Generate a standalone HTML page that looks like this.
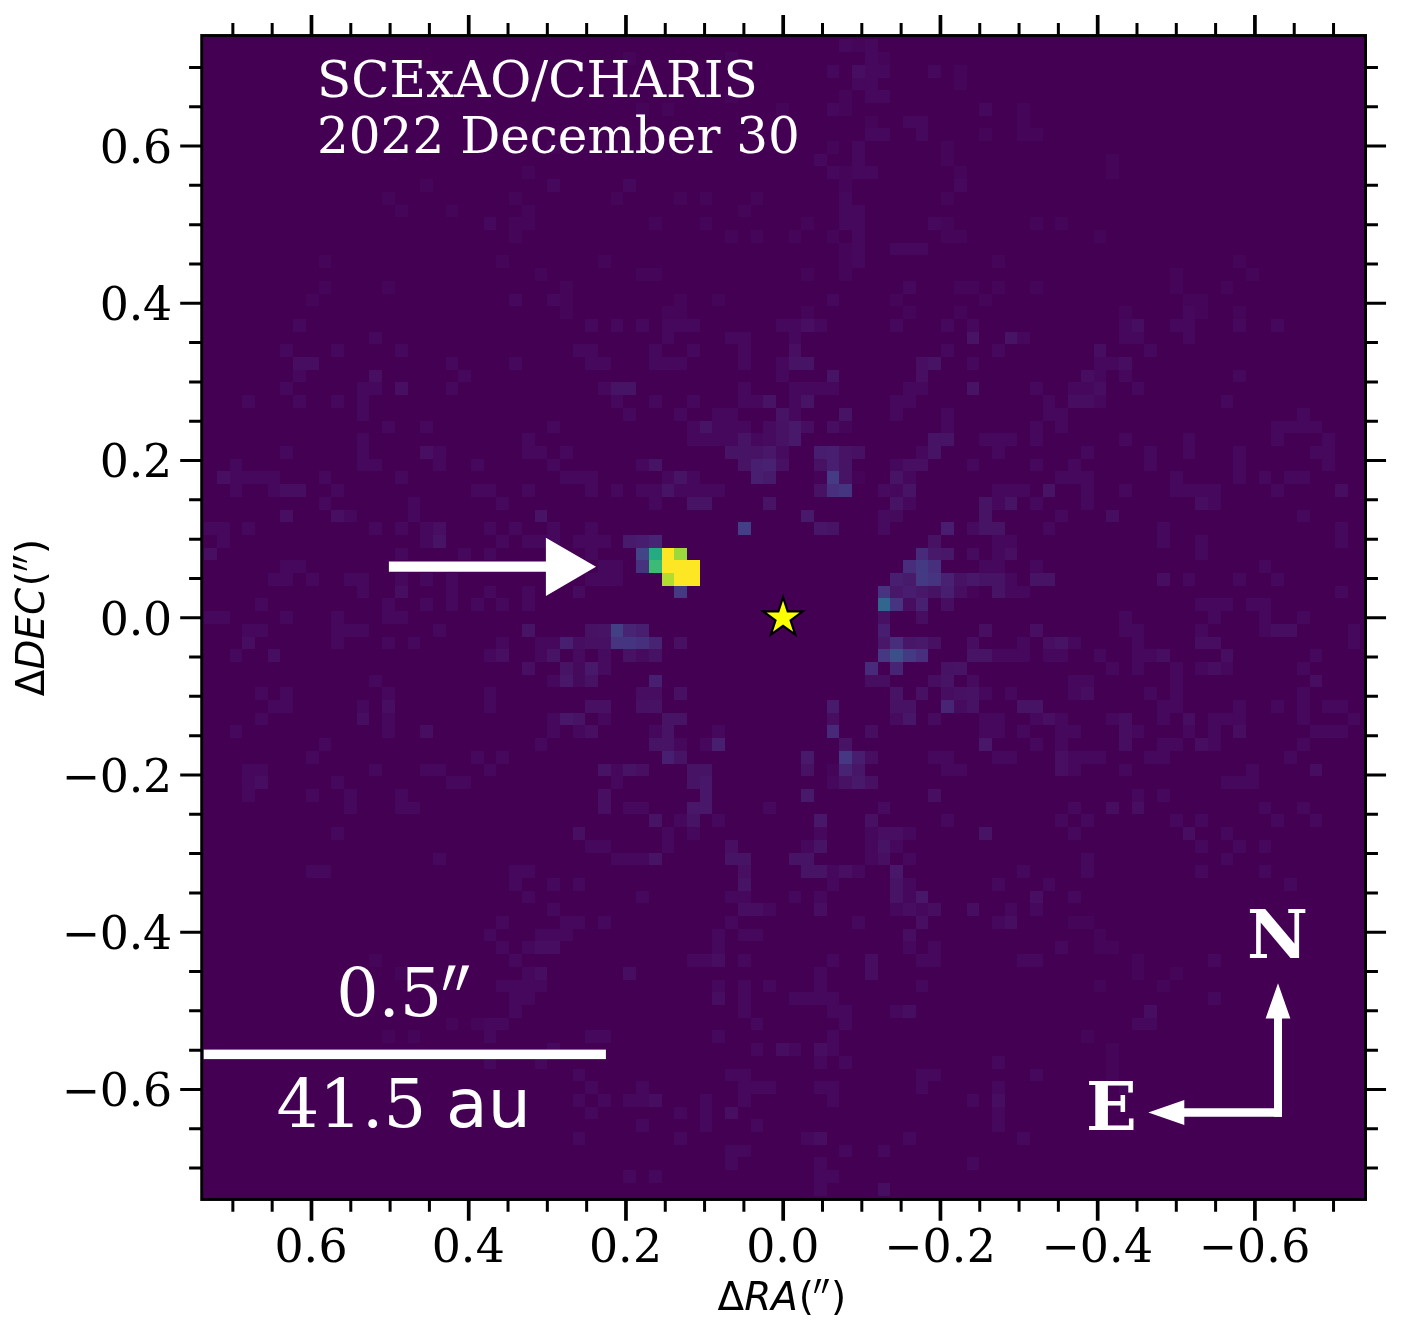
<!DOCTYPE html>
<html lang="en"><head><meta charset="utf-8"><title>SCExAO/CHARIS 2022 December 30</title>
<style>
html,body{margin:0;padding:0;background:#fff;overflow:hidden}
svg{display:block}
.ser{font-family:"DejaVu Serif","Liberation Serif",serif}
.san{font-family:"DejaVu Sans","Liberation Sans",sans-serif}
</style></head><body>
<svg width="1401" height="1334" viewBox="0 0 1401 1334">
<rect x="0" y="0" width="1401" height="1334" fill="#fff"/>
<defs><clipPath id="clipax"><rect x="201.7" y="35.5" width="1163.85" height="1164.00"/></clipPath></defs>
<rect x="201.7" y="35.5" width="1163.85" height="1164.00" fill="#440154"/>

<g shape-rendering="crispEdges" clip-path="url(#clipax)">
<path d="M204 522h13v13h-13zM204 611h13v13h-13zM217 522h13v13h-13zM217 535h13v13h-13zM217 611h13v13h-13zM230 459h12v12h-12zM230 471h12v13h-12zM230 484h12v13h-12zM230 649h12v13h-12zM230 725h12v13h-12zM242 395h13v13h-13zM242 471h13v13h-13zM242 522h13v13h-13zM242 624h13v13h-13zM242 764h13v12h-13zM242 776h13v13h-13zM242 789h13v13h-13zM255 471h13v13h-13zM255 598h13v13h-13zM255 624h13v13h-13zM255 687h13v13h-13zM255 713h13v12h-13zM255 764h13v12h-13zM268 471h12v13h-12zM268 484h12v13h-12zM268 573h12v13h-12zM268 700h12v13h-12zM280 344h13v13h-13zM280 382h13v13h-13zM280 446h13v13h-13zM280 560h13v13h-13zM280 573h13v13h-13zM280 611h13v13h-13zM280 687h13v13h-13zM280 700h13v13h-13zM293 319h13v13h-13zM293 370h13v12h-13zM293 395h13v13h-13zM293 560h13v13h-13zM306 573h13v13h-13zM306 751h13v13h-13zM306 789h13v13h-13zM306 865h13v13h-13zM319 471h12v13h-12zM319 497h12v13h-12zM319 738h12v13h-12zM319 865h12v13h-12zM331 344h13v13h-13zM331 395h13v13h-13zM331 484h13v13h-13zM331 611h13v13h-13zM331 624h13v13h-13zM331 637h13v12h-13zM331 776h13v13h-13zM331 827h13v13h-13zM344 510h13v12h-13zM344 573h13v13h-13zM344 624h13v13h-13zM344 789h13v13h-13zM344 802h13v12h-13zM357 382h12v13h-12zM357 395h12v13h-12zM357 408h12v13h-12zM357 433h12v13h-12zM357 446h12v13h-12zM357 459h12v12h-12zM357 573h12v13h-12zM357 586h12v12h-12zM357 624h12v13h-12zM357 700h12v13h-12zM369 332h13v12h-13zM369 382h13v13h-13zM369 459h13v12h-13zM369 522h13v13h-13zM369 675h13v12h-13zM369 764h13v12h-13zM382 421h13v12h-13zM382 598h13v13h-13zM382 611h13v13h-13zM382 637h13v12h-13zM382 687h13v13h-13zM382 713h13v12h-13zM382 725h13v13h-13zM395 344h13v13h-13zM395 471h13v13h-13zM395 522h13v13h-13zM395 548h13v12h-13zM395 573h13v13h-13zM395 611h13v13h-13zM395 789h13v13h-13zM395 802h13v12h-13zM408 497h12v13h-12zM408 510h12v12h-12zM408 637h12v12h-12zM408 802h12v12h-12zM420 421h13v12h-13zM420 522h13v13h-13zM420 535h13v13h-13zM420 573h13v13h-13zM420 598h13v13h-13zM420 764h13v12h-13zM433 446h13v13h-13zM433 459h13v12h-13zM433 624h13v13h-13zM433 764h13v12h-13zM433 853h13v12h-13zM446 357h12v13h-12zM446 382h12v13h-12zM446 573h12v13h-12zM446 586h12v12h-12zM446 598h12v13h-12zM446 776h12v13h-12zM458 370h13v12h-13zM458 548h13v12h-13zM458 776h13v13h-13zM471 459h13v12h-13zM471 484h13v13h-13zM471 598h13v13h-13zM471 751h13v13h-13zM484 217h12v13h-12zM484 484h12v13h-12zM484 522h12v13h-12zM484 548h12v12h-12zM484 586h12v12h-12zM484 649h12v13h-12zM484 687h12v13h-12zM484 700h12v13h-12zM484 764h12v12h-12zM484 929h12v12h-12zM484 1018h12v12h-12zM484 1030h12v13h-12zM484 1056h12v13h-12zM496 497h13v13h-13zM496 535h13v13h-13zM496 598h13v13h-13zM496 637h13v12h-13zM496 751h13v13h-13zM496 916h13v13h-13zM496 941h13v13h-13zM496 980h13v12h-13zM496 1018h13v12h-13zM509 294h13v12h-13zM509 357h13v13h-13zM509 522h13v13h-13zM509 865h13v13h-13zM509 878h13v13h-13zM509 954h13v13h-13zM509 980h13v12h-13zM509 992h13v13h-13zM509 1005h13v13h-13zM522 433h13v13h-13zM522 446h13v13h-13zM522 484h13v13h-13zM522 535h13v13h-13zM522 586h13v12h-13zM522 598h13v13h-13zM522 865h13v13h-13zM522 891h13v12h-13zM522 941h13v13h-13zM522 967h13v13h-13zM522 980h13v12h-13zM522 992h13v13h-13zM535 446h12v13h-12zM535 535h12v13h-12zM535 637h12v12h-12zM535 649h12v13h-12zM535 738h12v13h-12zM535 929h12v12h-12zM535 980h12v12h-12zM535 1056h12v13h-12zM547 179h13v13h-13zM547 294h13v12h-13zM547 421h13v12h-13zM547 459h13v12h-13zM547 522h13v13h-13zM547 535h13v13h-13zM547 637h13v12h-13zM547 675h13v12h-13zM547 713h13v12h-13zM547 725h13v13h-13zM547 878h13v13h-13zM547 903h13v13h-13zM547 929h13v12h-13zM547 1043h13v13h-13zM560 446h13v13h-13zM560 471h13v13h-13zM560 916h13v13h-13zM560 929h13v12h-13zM573 344h12v13h-12zM573 471h12v13h-12zM573 535h12v13h-12zM573 725h12v13h-12zM573 878h12v13h-12zM573 916h12v13h-12zM573 1069h12v12h-12zM573 1094h12v13h-12zM573 1132h12v13h-12zM585 319h13v13h-13zM585 344h13v13h-13zM585 357h13v13h-13zM585 471h13v13h-13zM585 484h13v13h-13zM585 522h13v13h-13zM585 535h13v13h-13zM585 548h13v12h-13zM585 573h13v13h-13zM585 840h13v13h-13zM585 1030h13v13h-13zM585 1081h13v13h-13zM585 1107h13v12h-13zM598 357h13v13h-13zM598 382h13v13h-13zM598 535h13v13h-13zM598 560h13v13h-13zM598 573h13v13h-13zM598 713h13v12h-13zM598 840h13v13h-13zM598 916h13v13h-13zM598 1030h13v13h-13zM598 1094h13v13h-13zM611 319h12v13h-12zM611 395h12v13h-12zM611 484h12v13h-12zM611 560h12v13h-12zM611 573h12v13h-12zM611 764h12v12h-12zM611 776h12v13h-12zM611 853h12v12h-12zM623 179h13v13h-13zM623 408h13v13h-13zM623 802h13v12h-13zM623 853h13v12h-13zM623 1094h13v13h-13zM623 1170h13v13h-13zM636 319h13v13h-13zM636 459h13v12h-13zM636 484h13v13h-13zM636 802h13v12h-13zM636 853h13v12h-13zM636 891h13v12h-13zM636 1081h13v13h-13zM636 1094h13v13h-13zM636 1119h13v13h-13zM649 344h13v13h-13zM649 357h13v13h-13zM649 395h13v13h-13zM649 484h13v13h-13zM649 497h13v13h-13zM649 725h13v13h-13zM649 1170h13v13h-13zM662 319h12v13h-12zM662 332h12v12h-12zM662 357h12v13h-12zM662 471h12v13h-12zM662 827h12v13h-12zM662 840h12v13h-12zM674 319h13v13h-13zM674 357h13v13h-13zM674 408h13v13h-13zM674 484h13v13h-13zM674 738h13v13h-13zM674 814h13v13h-13zM674 1107h13v12h-13zM674 1132h13v13h-13zM687 319h13v13h-13zM687 344h13v13h-13zM687 395h13v13h-13zM687 421h13v12h-13zM687 433h13v13h-13zM687 471h13v13h-13zM687 484h13v13h-13zM687 827h13v13h-13zM687 954h13v13h-13zM700 433h12v13h-12zM700 484h12v13h-12zM700 738h12v13h-12zM700 954h12v13h-12zM700 1094h12v13h-12zM700 1107h12v12h-12zM700 1119h12v13h-12zM712 408h13v13h-13zM712 421h13v12h-13zM712 433h13v13h-13zM712 484h13v13h-13zM712 725h13v13h-13zM712 814h13v13h-13zM712 929h13v12h-13zM712 941h13v13h-13zM712 980h13v12h-13zM712 1030h13v13h-13zM725 332h13v12h-13zM725 408h13v13h-13zM725 421h13v12h-13zM725 433h13v13h-13zM725 891h13v12h-13zM725 916h13v13h-13zM725 1069h13v12h-13zM725 1145h13v12h-13zM725 1157h13v13h-13zM738 332h13v12h-13zM738 344h13v13h-13zM738 357h13v13h-13zM738 382h13v13h-13zM738 395h13v13h-13zM738 421h13v12h-13zM738 891h13v12h-13zM738 929h13v12h-13zM738 954h13v13h-13zM738 980h13v12h-13zM738 992h13v13h-13zM738 1005h13v13h-13zM738 1069h13v12h-13zM738 1081h13v13h-13zM738 1094h13v13h-13zM738 1145h13v12h-13zM751 395h12v13h-12zM751 433h12v13h-12zM751 929h12v12h-12zM751 1018h12v12h-12zM751 1043h12v13h-12zM751 1081h12v13h-12zM751 1119h12v13h-12zM763 802h13v12h-13zM763 903h13v13h-13zM763 980h13v12h-13zM763 1081h13v13h-13zM776 319h13v13h-13zM776 357h13v13h-13zM776 370h13v12h-13zM789 319h12v13h-12zM789 332h12v12h-12zM789 382h12v13h-12zM789 395h12v13h-12zM789 408h12v13h-12zM789 891h12v12h-12zM789 992h12v13h-12zM789 1043h12v13h-12zM801 382h13v13h-13zM801 840h13v13h-13zM801 992h13v13h-13zM801 1132h13v13h-13zM814 154h13v12h-13zM814 319h13v13h-13zM814 382h13v13h-13zM814 827h13v13h-13zM814 891h13v12h-13zM814 967h13v13h-13zM814 980h13v12h-13zM814 992h13v13h-13zM814 1056h13v13h-13zM814 1081h13v13h-13zM814 1157h13v13h-13zM814 1170h13v13h-13zM814 1183h13v13h-13zM827 65h12v13h-12zM827 103h12v13h-12zM827 166h12v13h-12zM827 294h12v12h-12zM827 382h12v13h-12zM827 776h12v13h-12zM827 865h12v13h-12zM827 878h12v13h-12zM827 954h12v13h-12zM827 992h12v13h-12zM827 1005h12v13h-12zM827 1030h12v13h-12zM827 1043h12v13h-12zM827 1081h12v13h-12zM827 1094h12v13h-12zM827 1170h12v13h-12zM839 39h13v13h-13zM839 192h13v13h-13zM839 205h13v12h-13zM839 217h13v13h-13zM839 1005h13v13h-13zM839 1018h13v12h-13zM839 1056h13v13h-13zM839 1145h13v12h-13zM852 78h13v12h-13zM852 141h13v13h-13zM852 154h13v12h-13zM852 166h13v13h-13zM852 205h13v12h-13zM852 217h13v13h-13zM852 230h13v13h-13zM852 243h13v12h-13zM852 255h13v13h-13zM852 865h13v13h-13zM852 916h13v13h-13zM865 39h13v13h-13zM865 52h13v13h-13zM865 65h13v13h-13zM865 78h13v12h-13zM865 90h13v13h-13zM865 128h13v13h-13zM865 166h13v13h-13zM865 827h13v13h-13zM865 840h13v13h-13zM865 853h13v12h-13zM878 65h12v13h-12zM878 90h12v13h-12zM878 128h12v13h-12zM878 1145h12v12h-12zM890 243h13v12h-13zM890 319h13v13h-13zM890 395h13v13h-13zM890 408h13v13h-13zM890 459h13v12h-13zM890 484h13v13h-13zM890 840h13v13h-13zM890 903h13v13h-13zM890 1005h13v13h-13zM903 116h13v12h-13zM903 243h13v12h-13zM903 281h13v13h-13zM903 382h13v13h-13zM903 395h13v13h-13zM903 471h13v13h-13zM903 497h13v13h-13zM903 827h13v13h-13zM903 853h13v12h-13zM903 878h13v13h-13zM903 891h13v12h-13zM903 941h13v13h-13zM903 1132h13v13h-13zM916 116h12v12h-12zM916 128h12v13h-12zM916 243h12v12h-12zM916 382h12v13h-12zM916 446h12v13h-12zM916 903h12v13h-12zM916 954h12v13h-12zM916 980h12v12h-12zM916 1069h12v12h-12zM916 1081h12v13h-12zM928 65h13v13h-13zM928 217h13v13h-13zM928 751h13v13h-13zM928 941h13v13h-13zM928 954h13v13h-13zM928 1069h13v12h-13zM941 319h13v13h-13zM941 344h13v13h-13zM941 408h13v13h-13zM941 421h13v12h-13zM941 751h13v13h-13zM941 764h13v12h-13zM941 814h13v13h-13zM954 179h13v13h-13zM954 764h13v12h-13zM967 319h12v13h-12zM967 357h12v13h-12zM967 459h12v12h-12zM967 1094h12v13h-12zM967 1157h12v13h-12zM979 103h13v13h-13zM979 433h13v13h-13zM979 560h13v13h-13zM979 687h13v13h-13zM979 713h13v12h-13zM979 725h13v13h-13zM992 344h13v13h-13zM992 433h13v13h-13zM992 446h13v13h-13zM992 484h13v13h-13zM992 497h13v13h-13zM992 535h13v13h-13zM992 548h13v12h-13zM992 560h13v13h-13zM992 649h13v13h-13zM992 713h13v12h-13zM992 725h13v13h-13zM992 751h13v13h-13zM992 878h13v13h-13zM992 916h13v13h-13zM992 1056h13v13h-13zM992 1081h13v13h-13zM992 1107h13v12h-13zM992 1119h13v13h-13zM1005 433h12v13h-12zM1005 484h12v13h-12zM1005 535h12v13h-12zM1005 573h12v13h-12zM1005 586h12v12h-12zM1005 649h12v13h-12zM1005 687h12v13h-12zM1005 751h12v13h-12zM1005 903h12v13h-12zM1017 332h13v12h-13zM1017 484h13v13h-13zM1017 586h13v12h-13zM1017 637h13v12h-13zM1017 649h13v13h-13zM1017 725h13v13h-13zM1017 865h13v13h-13zM1017 954h13v13h-13zM1017 1132h13v13h-13zM1030 382h13v13h-13zM1030 421h13v12h-13zM1030 433h13v13h-13zM1030 459h13v12h-13zM1030 497h13v13h-13zM1030 560h13v13h-13zM1030 713h13v12h-13zM1030 738h13v13h-13zM1030 903h13v13h-13zM1030 954h13v13h-13zM1030 1069h13v12h-13zM1043 395h12v13h-12zM1043 408h12v13h-12zM1043 522h12v13h-12zM1043 649h12v13h-12zM1043 878h12v13h-12zM1055 408h13v13h-13zM1055 421h13v12h-13zM1055 471h13v13h-13zM1055 510h13v12h-13zM1055 649h13v13h-13zM1055 713h13v12h-13zM1055 725h13v13h-13zM1055 738h13v13h-13zM1055 814h13v13h-13zM1055 941h13v13h-13zM1068 382h13v13h-13zM1068 459h13v12h-13zM1068 471h13v13h-13zM1068 637h13v12h-13zM1068 675h13v12h-13zM1068 687h13v13h-13zM1068 725h13v13h-13zM1068 751h13v13h-13zM1068 764h13v12h-13zM1068 802h13v12h-13zM1068 827h13v13h-13zM1068 891h13v12h-13zM1081 382h13v13h-13zM1081 446h13v13h-13zM1081 471h13v13h-13zM1081 484h13v13h-13zM1081 497h13v13h-13zM1081 675h13v12h-13zM1081 751h13v13h-13zM1081 814h13v13h-13zM1081 853h13v12h-13zM1081 865h13v13h-13zM1094 357h12v13h-12zM1094 370h12v12h-12zM1094 395h12v13h-12zM1094 649h12v13h-12zM1094 751h12v13h-12zM1106 357h13v13h-13zM1106 662h13v13h-13zM1106 713h13v12h-13zM1119 319h13v13h-13zM1119 332h13v12h-13zM1119 370h13v12h-13zM1119 433h13v13h-13zM1119 484h13v13h-13zM1119 611h13v13h-13zM1119 624h13v13h-13zM1119 764h13v12h-13zM1119 1081h13v13h-13zM1132 332h12v12h-12zM1132 382h12v13h-12zM1132 624h12v13h-12zM1132 637h12v12h-12zM1132 649h12v13h-12zM1132 662h12v13h-12zM1132 725h12v13h-12zM1132 789h12v13h-12zM1132 1018h12v12h-12zM1144 344h13v13h-13zM1144 446h13v13h-13zM1144 459h13v12h-13zM1144 649h13v13h-13zM1144 687h13v13h-13zM1144 751h13v13h-13zM1144 1018h13v12h-13zM1157 522h13v13h-13zM1157 535h13v13h-13zM1157 700h13v13h-13zM1157 713h13v12h-13zM1157 738h13v13h-13zM1157 751h13v13h-13zM1157 789h13v13h-13zM1170 319h13v13h-13zM1170 471h13v13h-13zM1170 484h13v13h-13zM1170 662h13v13h-13zM1170 675h13v12h-13zM1170 687h13v13h-13zM1170 700h13v13h-13zM1170 738h13v13h-13zM1170 814h13v13h-13zM1183 306h12v13h-12zM1183 319h12v13h-12zM1183 332h12v12h-12zM1183 433h12v13h-12zM1183 446h12v13h-12zM1183 484h12v13h-12zM1183 573h12v13h-12zM1183 725h12v13h-12zM1195 484h13v13h-13zM1195 535h13v13h-13zM1195 548h13v12h-13zM1195 598h13v13h-13zM1195 624h13v13h-13zM1195 662h13v13h-13zM1195 814h13v13h-13zM1195 840h13v13h-13zM1195 865h13v13h-13zM1208 484h13v13h-13zM1208 497h13v13h-13zM1208 598h13v13h-13zM1208 611h13v13h-13zM1208 713h13v12h-13zM1208 725h13v13h-13zM1208 738h13v13h-13zM1208 954h13v13h-13zM1208 992h13v13h-13zM1221 395h12v13h-12zM1221 598h12v13h-12zM1221 662h12v13h-12zM1221 713h12v12h-12zM1221 776h12v13h-12zM1221 827h12v13h-12zM1221 853h12v12h-12zM1233 319h13v13h-13zM1233 370h13v12h-13zM1233 446h13v13h-13zM1233 459h13v12h-13zM1233 471h13v13h-13zM1233 573h13v13h-13zM1233 700h13v13h-13zM1233 713h13v12h-13zM1233 776h13v13h-13zM1233 840h13v13h-13zM1246 598h13v13h-13zM1246 764h13v12h-13zM1246 776h13v13h-13zM1259 471h12v13h-12zM1259 560h12v13h-12zM1259 598h12v13h-12zM1259 611h12v13h-12zM1259 624h12v13h-12zM1259 802h12v12h-12zM1259 840h12v13h-12zM1259 865h12v13h-12zM1271 319h13v13h-13zM1271 421h13v12h-13zM1271 433h13v13h-13zM1271 484h13v13h-13zM1271 573h13v13h-13zM1271 700h13v13h-13zM1271 814h13v13h-13zM1284 421h13v12h-13zM1284 471h13v13h-13zM1284 751h13v13h-13zM1284 878h13v13h-13zM1297 408h13v13h-13zM1297 421h13v12h-13zM1297 471h13v13h-13zM1297 510h13v12h-13zM1297 611h13v13h-13zM1297 662h13v13h-13zM1297 687h13v13h-13zM1297 700h13v13h-13zM1297 713h13v12h-13zM1297 738h13v13h-13zM1297 802h13v12h-13zM1310 421h12v12h-12zM1310 446h12v13h-12zM1310 649h12v13h-12zM1310 725h12v13h-12zM1310 814h12v13h-12zM1322 433h13v13h-13zM1322 446h13v13h-13zM1322 459h13v12h-13zM1322 700h13v13h-13zM1322 725h13v13h-13zM1335 522h13v13h-13zM1335 535h13v13h-13zM1335 586h13v12h-13zM1335 700h13v13h-13zM1335 725h13v13h-13zM1348 624h12v13h-12zM1348 637h12v12h-12zM1348 713h12v12h-12z" fill="#46085c"/>
<path d="M204 548h13v12h-13zM217 471h13v13h-13zM280 510h13v12h-13zM331 510h13v12h-13zM369 370h13v12h-13zM395 382h13v13h-13zM420 446h13v13h-13zM433 522h13v13h-13zM496 649h13v13h-13zM522 662h13v13h-13zM573 827h12v13h-12zM585 725h13v13h-13zM598 789h13v13h-13zM598 802h13v12h-13zM636 764h13v12h-13zM725 840h13v13h-13zM725 1107h13v12h-13zM738 865h13v13h-13zM789 344h12v13h-12zM801 319h13v13h-13zM839 865h13v13h-13zM878 827h12v13h-12zM878 853h12v12h-12zM890 827h13v13h-13zM903 459h13v12h-13zM916 357h12v13h-12zM916 370h12v12h-12zM916 459h12v12h-12zM916 916h12v13h-12zM928 789h13v13h-13zM979 624h13v13h-13zM1005 548h12v12h-12zM1030 624h13v13h-13zM1030 891h13v12h-13zM1043 637h12v12h-12zM1043 713h12v12h-12zM1055 751h13v13h-13zM1055 764h13v12h-13z" fill="#470e61"/>
<path d="M242 637h13v12h-13zM255 776h13v13h-13zM268 649h12v13h-12zM280 484h13v13h-13zM293 357h13v13h-13zM293 484h13v13h-13zM306 357h13v13h-13zM357 713h12v12h-12zM382 700h13v13h-13zM395 586h13v12h-13zM420 725h13v13h-13zM535 941h12v13h-12zM535 967h12v13h-12zM547 941h13v13h-13zM573 637h12v12h-12zM623 967h13v13h-13zM636 687h13v13h-13zM649 687h13v13h-13zM649 1094h13v13h-13zM712 954h13v13h-13zM712 992h13v13h-13zM738 903h13v13h-13zM751 903h12v13h-12zM776 1043h13v13h-13zM801 421h13v12h-13zM814 903h13v13h-13zM814 1043h13v13h-13zM814 1132h13v13h-13zM827 421h12v12h-12zM827 713h12v12h-12zM852 65h13v13h-13zM865 675h13v12h-13zM865 725h13v13h-13zM865 751h13v13h-13zM865 954h13v13h-13zM865 967h13v13h-13zM878 675h12v12h-12zM878 1183h12v13h-12zM903 598h13v13h-13zM903 903h13v13h-13zM903 929h13v12h-13zM903 1005h13v13h-13zM916 611h12v13h-12zM928 675h13v12h-13zM928 903h13v13h-13zM941 598h13v13h-13zM941 687h13v13h-13zM954 586h13v12h-13zM967 637h12v12h-12zM967 903h12v13h-12zM992 1094h13v13h-13zM1005 916h12v13h-12zM1068 395h13v13h-13zM1081 370h13v12h-13zM1081 395h13v13h-13zM1081 687h13v13h-13zM1094 344h12v13h-12zM1094 382h12v13h-12zM1106 510h13v12h-13zM1106 802h13v12h-13zM1119 357h13v13h-13zM1119 713h13v12h-13zM1119 725h13v13h-13zM1119 738h13v13h-13zM1132 319h12v13h-12zM1132 802h12v12h-12zM1144 1005h13v13h-13zM1157 573h13v13h-13zM1157 649h13v13h-13zM1183 713h12v12h-12zM1183 827h12v13h-12zM1195 497h13v13h-13zM1195 637h13v12h-13zM1195 738h13v13h-13zM1208 637h13v12h-13zM1208 662h13v13h-13zM1221 649h12v13h-12zM1233 725h13v13h-13zM1271 624h13v13h-13zM1284 624h13v13h-13zM1310 675h12v12h-12zM1310 764h12v12h-12zM1335 484h13v13h-13z" fill="#470d60"/>
<path d="M306 294h13v12h-13zM319 255h12v13h-12zM319 281h12v13h-12zM369 954h13v13h-13zM382 192h13v13h-13zM382 281h13v13h-13zM382 1030h13v13h-13zM395 205h13v12h-13zM395 967h13v13h-13zM408 1030h12v13h-12zM420 179h13v13h-13zM446 205h12v12h-12zM446 1018h12v12h-12zM471 1018h13v12h-13zM496 255h13v13h-13zM509 192h13v13h-13zM509 217h13v13h-13zM509 230h13v13h-13zM522 166h13v13h-13zM522 205h13v12h-13zM522 217h13v13h-13zM535 268h12v13h-12zM547 141h13v13h-13zM560 281h13v13h-13zM560 294h13v12h-13zM560 306h13v13h-13zM598 255h13v13h-13zM611 192h12v13h-12zM623 52h13v13h-13zM636 103h13v13h-13zM636 268h13v13h-13zM649 217h13v13h-13zM649 268h13v13h-13zM662 103h12v13h-12zM662 306h12v13h-12zM674 192h13v13h-13zM674 294h13v12h-13zM674 306h13v13h-13zM700 192h12v13h-12zM700 217h12v13h-12zM712 294h13v12h-13zM725 52h13v13h-13zM725 90h13v13h-13zM725 230h13v13h-13zM738 205h13v12h-13zM751 192h12v13h-12zM751 230h12v13h-12zM776 103h13v13h-13zM789 230h12v13h-12zM801 217h13v13h-13zM801 268h13v13h-13zM801 306h13v13h-13zM827 141h12v13h-12zM827 230h12v13h-12zM827 764h12v12h-12zM839 90h13v13h-13zM839 103h13v13h-13zM839 166h13v13h-13zM839 179h13v13h-13zM839 243h13v12h-13zM839 255h13v13h-13zM839 268h13v13h-13zM839 421h13v12h-13zM852 39h13v13h-13zM865 116h13v12h-13zM878 52h12v13h-12zM890 294h13v12h-13zM903 306h13v13h-13zM941 141h13v13h-13zM941 154h13v12h-13zM941 192h13v13h-13zM941 217h13v13h-13zM941 230h13v13h-13zM954 65h13v13h-13zM954 78h13v12h-13zM954 166h13v13h-13zM954 230h13v13h-13zM954 281h13v13h-13zM954 306h13v13h-13zM967 281h12v13h-12zM979 128h13v13h-13zM979 294h13v12h-13zM992 255h13v13h-13zM992 281h13v13h-13zM1017 103h13v13h-13zM1017 116h13v12h-13zM1017 128h13v13h-13zM1030 128h13v13h-13zM1030 217h13v13h-13zM1030 281h13v13h-13zM1055 217h13v13h-13zM1068 916h13v13h-13zM1081 916h13v13h-13zM1081 1030h13v13h-13zM1094 230h12v13h-12zM1094 929h12v12h-12zM1094 941h12v13h-12zM1094 980h12v12h-12zM1106 154h13v12h-13zM1106 166h13v13h-13zM1106 941h13v13h-13zM1106 1043h13v13h-13zM1106 1056h13v13h-13zM1106 1069h13v12h-13zM1119 306h13v13h-13zM1132 954h12v13h-12zM1132 967h12v13h-12zM1157 980h13v12h-13zM1170 268h13v13h-13zM1170 281h13v13h-13zM1170 967h13v13h-13zM1183 294h12v12h-12zM1195 294h13v12h-13zM1195 306h13v13h-13zM1221 281h12v13h-12zM1233 255h13v13h-13zM1233 306h13v13h-13zM1246 268h13v13h-13z" fill="#450559"/>
<path d="M433 535h13v13h-13zM522 624h13v13h-13zM535 510h12v12h-12zM547 649h13v13h-13zM560 662h13v13h-13zM573 713h12v12h-12zM598 624h13v13h-13zM598 764h13v12h-13zM611 382h12v13h-12zM623 382h13v13h-13zM623 764h13v12h-13zM649 459h13v12h-13zM649 738h13v13h-13zM649 814h13v13h-13zM649 853h13v12h-13zM662 484h12v13h-12zM662 713h12v12h-12zM662 725h12v13h-12zM662 738h12v13h-12zM674 471h13v13h-13zM674 713h13v12h-13zM674 751h13v13h-13zM687 497h13v13h-13zM687 764h13v12h-13zM687 776h13v13h-13zM687 814h13v13h-13zM700 421h12v12h-12zM700 497h12v13h-12zM700 764h12v12h-12zM725 446h13v13h-13zM725 853h13v12h-13zM738 433h13v13h-13zM738 446h13v13h-13zM738 459h13v12h-13zM738 853h13v12h-13zM738 878h13v13h-13zM751 446h12v13h-12zM763 395h13v13h-13zM763 497h13v13h-13zM776 408h13v13h-13zM789 357h12v13h-12zM789 853h12v12h-12zM801 357h13v13h-13zM801 395h13v13h-13zM801 853h13v12h-13zM801 865h13v13h-13zM814 840h13v13h-13zM814 865h13v13h-13zM827 370h12v12h-12zM827 522h12v13h-12zM839 408h13v13h-13zM839 446h13v13h-13zM839 459h13v12h-13zM839 471h13v13h-13zM839 738h13v13h-13zM878 840h12v13h-12zM890 471h13v13h-13zM890 497h13v13h-13zM890 687h13v13h-13zM890 878h13v13h-13zM890 891h13v12h-13zM903 484h13v13h-13zM928 357h13v13h-13zM928 433h13v13h-13zM928 446h13v13h-13zM941 433h13v13h-13zM941 675h13v12h-13zM954 662h13v13h-13zM967 332h12v12h-12zM967 382h12v13h-12zM967 649h12v13h-12zM979 497h13v13h-13zM979 510h13v12h-13zM979 522h13v13h-13zM979 573h13v13h-13zM979 649h13v13h-13zM979 827h13v13h-13zM992 522h13v13h-13zM992 573h13v13h-13zM992 586h13v12h-13zM1005 332h12v12h-12zM1005 497h12v13h-12zM1017 700h13v13h-13zM1030 573h13v13h-13zM1030 700h13v13h-13zM1043 484h12v13h-12zM1043 573h12v13h-12zM1055 637h13v12h-13z" fill="#471365"/>
<path d="M560 637h13v12h-13zM636 624h13v13h-13zM649 675h13v12h-13zM662 751h12v13h-12zM712 738h13v13h-13zM751 459h12v12h-12zM751 471h12v13h-12zM827 446h12v13h-12zM827 459h12v12h-12zM890 573h13v13h-13zM941 586h13v12h-13z" fill="#481f70"/>
<path d="M560 675h13v12h-13zM560 713h13v12h-13zM687 802h13v12h-13zM700 776h12v13h-12zM700 789h12v13h-12zM700 802h12v12h-12zM763 446h13v13h-13zM814 814h13v13h-13zM878 637h12v12h-12zM890 586h13v12h-13zM890 865h13v13h-13zM916 586h12v12h-12zM916 891h12v12h-12zM941 548h13v12h-13zM967 573h12v13h-12zM979 738h13v13h-13z" fill="#481769"/>
<path d="M573 586h12v12h-12zM573 649h12v13h-12zM598 649h13v13h-13zM598 662h13v13h-13zM636 649h13v13h-13zM763 421h13v12h-13zM763 433h13v13h-13zM776 446h13v13h-13zM878 484h12v13h-12zM878 510h12v12h-12zM878 522h12v13h-12zM878 802h12v12h-12zM890 713h13v12h-13zM928 713h13v12h-13zM954 700h13v13h-13zM967 522h12v13h-12zM967 548h12v12h-12zM967 675h12v12h-12z" fill="#460b5e"/>
<path d="M573 662h12v13h-12zM573 675h12v12h-12zM890 510h13v12h-13z" fill="#460a5d"/>
<path d="M585 624h13v13h-13zM585 675h13v12h-13zM623 649h13v13h-13zM649 649h13v13h-13zM649 700h13v13h-13zM776 421h13v12h-13zM776 433h13v13h-13zM801 764h13v12h-13zM814 459h13v12h-13zM814 484h13v13h-13zM839 776h13v13h-13zM890 700h13v13h-13zM903 700h13v13h-13zM928 535h13v13h-13zM928 586h13v12h-13zM941 662h13v13h-13zM954 573h13v13h-13zM967 687h12v13h-12zM967 700h12v13h-12z" fill="#471164"/>
<path d="M585 637h13v12h-13zM585 700h13v13h-13zM598 637h13v12h-13zM598 700h13v13h-13zM636 700h13v13h-13zM674 637h13v12h-13zM674 687h13v13h-13zM776 459h13v12h-13zM852 446h13v13h-13zM865 776h13v13h-13zM865 814h13v13h-13zM878 611h12v13h-12zM916 687h12v13h-12zM928 637h13v12h-13zM954 687h13v13h-13z" fill="#471063"/>
<path d="M585 662h13v13h-13zM789 421h12v12h-12zM789 433h12v13h-12zM801 510h13v12h-13zM801 751h13v13h-13zM801 789h13v13h-13zM852 776h13v13h-13zM916 637h12v12h-12zM928 548h13v12h-13z" fill="#48186a"/>
<path d="M611 624h12v13h-12z" fill="#423f85"/>
<path d="M611 637h12v12h-12zM878 586h12v12h-12zM890 598h13v13h-13zM928 573h13v13h-13z" fill="#463480"/>
<path d="M623 535h13v13h-13zM763 471h13v13h-13zM827 700h12v13h-12zM903 573h13v13h-13z" fill="#481a6c"/>
<path d="M623 624h13v13h-13zM649 535h13v13h-13zM890 662h13v13h-13zM941 700h13v13h-13z" fill="#482475"/>
<path d="M623 637h13v12h-13zM839 484h13v13h-13z" fill="#453581"/>
<path d="M636 535h13v13h-13zM814 446h13v13h-13zM852 751h13v13h-13zM903 586h13v12h-13z" fill="#481c6e"/>
<path d="M636 548h13v12h-13z" fill="#414487"/>
<path d="M636 560h13v13h-13z" fill="#46337f"/>
<path d="M636 637h13v12h-13z" fill="#46307e"/>
<path d="M649 548h13v12h-13z" fill="#25ab82"/>
<path d="M649 560h13v13h-13z" fill="#3bbb75"/>
<path d="M649 637h13v12h-13zM839 764h13v12h-13z" fill="#482374"/>
<path d="M662 548h12v12h-12zM662 560h12v13h-12zM674 560h13v13h-13zM674 573h13v13h-13zM687 560h13v13h-13zM687 573h13v13h-13z" fill="#fde725"/>
<path d="M662 573h12v13h-12z" fill="#b0dd2f"/>
<path d="M674 548h13v12h-13z" fill="#9bd93c"/>
<path d="M674 586h13v12h-13zM903 649h13v13h-13zM916 560h12v13h-12zM916 573h12v13h-12z" fill="#443983"/>
<path d="M738 522h13v13h-13z" fill="#433e85"/>
<path d="M763 459h13v12h-13zM941 573h13v13h-13z" fill="#482173"/>
<path d="M814 471h13v13h-13zM852 471h13v13h-13zM967 586h12v12h-12z" fill="#450457"/>
<path d="M814 522h13v13h-13zM852 764h13v12h-13zM903 637h13v12h-13zM903 713h13v12h-13z" fill="#481668"/>
<path d="M827 471h12v13h-12z" fill="#443b84"/>
<path d="M827 484h12v13h-12zM916 649h12v13h-12zM928 560h13v13h-13z" fill="#472f7d"/>
<path d="M827 725h12v13h-12z" fill="#482979"/>
<path d="M839 751h13v13h-13zM878 649h12v13h-12z" fill="#453781"/>
<path d="M865 662h13v13h-13zM916 548h12v12h-12z" fill="#472a7a"/>
<path d="M878 598h12v13h-12z" fill="#31668e"/>
<path d="M878 624h12v13h-12zM941 522h13v13h-13z" fill="#481d6f"/>
<path d="M890 637h13v12h-13zM903 560h13v13h-13z" fill="#472d7b"/>
<path d="M890 649h13v13h-13z" fill="#3c4f8a"/>
<path d="M916 598h12v13h-12z" fill="#482071"/>
</g>
<path d="M1254.92 35.5V15.00M1254.92 1199.5V1220.70M1097.68 35.5V15.00M1097.68 1199.5V1220.70M940.44 35.5V15.00M940.44 1199.5V1220.70M783.20 35.5V15.00M783.20 1199.5V1220.70M625.96 35.5V15.00M625.96 1199.5V1220.70M468.72 35.5V15.00M468.72 1199.5V1220.70M311.48 35.5V15.00M311.48 1199.5V1220.70" stroke="#000" stroke-width="3.7" fill="none"/>
<path d="M201.7 1089.47H180.20M1365.55 1089.47H1386.05M201.7 932.23H180.20M1365.55 932.23H1386.05M201.7 774.99H180.20M1365.55 774.99H1386.05M201.7 617.75H180.20M1365.55 617.75H1386.05M201.7 460.51H180.20M1365.55 460.51H1386.05M201.7 303.27H180.20M1365.55 303.27H1386.05M201.7 146.03H180.20M1365.55 146.03H1386.05" stroke="#000" stroke-width="3.1" fill="none"/>
<path d="M1333.54 35.5V23.00M1333.54 1199.5V1211.80M201.7 1168.09H189.10M1365.55 1168.09H1377.95M1294.23 35.5V23.00M1294.23 1199.5V1211.80M201.7 1128.78H189.10M1365.55 1128.78H1377.95M1215.61 35.5V23.00M1215.61 1199.5V1211.80M201.7 1050.16H189.10M1365.55 1050.16H1377.95M1176.30 35.5V23.00M1176.30 1199.5V1211.80M201.7 1010.85H189.10M1365.55 1010.85H1377.95M1136.99 35.5V23.00M1136.99 1199.5V1211.80M201.7 971.54H189.10M1365.55 971.54H1377.95M1058.37 35.5V23.00M1058.37 1199.5V1211.80M201.7 892.92H189.10M1365.55 892.92H1377.95M1019.06 35.5V23.00M1019.06 1199.5V1211.80M201.7 853.61H189.10M1365.55 853.61H1377.95M979.75 35.5V23.00M979.75 1199.5V1211.80M201.7 814.30H189.10M1365.55 814.30H1377.95M901.13 35.5V23.00M901.13 1199.5V1211.80M201.7 735.68H189.10M1365.55 735.68H1377.95M861.82 35.5V23.00M861.82 1199.5V1211.80M201.7 696.37H189.10M1365.55 696.37H1377.95M822.51 35.5V23.00M822.51 1199.5V1211.80M201.7 657.06H189.10M1365.55 657.06H1377.95M743.89 35.5V23.00M743.89 1199.5V1211.80M201.7 578.44H189.10M1365.55 578.44H1377.95M704.58 35.5V23.00M704.58 1199.5V1211.80M201.7 539.13H189.10M1365.55 539.13H1377.95M665.27 35.5V23.00M665.27 1199.5V1211.80M201.7 499.82H189.10M1365.55 499.82H1377.95M586.65 35.5V23.00M586.65 1199.5V1211.80M201.7 421.20H189.10M1365.55 421.20H1377.95M547.34 35.5V23.00M547.34 1199.5V1211.80M201.7 381.89H189.10M1365.55 381.89H1377.95M508.03 35.5V23.00M508.03 1199.5V1211.80M201.7 342.58H189.10M1365.55 342.58H1377.95M429.41 35.5V23.00M429.41 1199.5V1211.80M201.7 263.96H189.10M1365.55 263.96H1377.95M390.10 35.5V23.00M390.10 1199.5V1211.80M201.7 224.65H189.10M1365.55 224.65H1377.95M350.79 35.5V23.00M350.79 1199.5V1211.80M201.7 185.34H189.10M1365.55 185.34H1377.95M272.17 35.5V23.00M272.17 1199.5V1211.80M201.7 106.72H189.10M1365.55 106.72H1377.95M232.86 35.5V23.00M232.86 1199.5V1211.80M201.7 67.41H189.10M1365.55 67.41H1377.95" stroke="#000" stroke-width="3.0" fill="none"/>
<rect x="201.7" y="35.5" width="1163.85" height="1164.00" fill="none" stroke="#000" stroke-width="2.9"/>
<text class="ser" x="1254.52" y="1262.45" font-size="45.8" text-anchor="middle">−0.<tspan dx="0.5">6</tspan></text>
<text class="ser" x="171.9" y="1106.27" font-size="45.8" letter-spacing="-0.25" text-anchor="end">−0.6</text>
<text class="ser" x="1097.28" y="1262.45" font-size="45.8" text-anchor="middle">−0.<tspan dx="0.5">4</tspan></text>
<text class="ser" x="171.9" y="949.03" font-size="45.8" letter-spacing="-0.25" text-anchor="end">−0.4</text>
<text class="ser" x="940.04" y="1262.45" font-size="45.8" text-anchor="middle">−0.<tspan dx="0.5">2</tspan></text>
<text class="ser" x="171.9" y="791.79" font-size="45.8" letter-spacing="-0.25" text-anchor="end">−0.2</text>
<text class="ser" x="782.80" y="1262.45" font-size="45.8" text-anchor="middle">0.<tspan dx="0.5">0</tspan></text>
<text class="ser" x="171.9" y="634.55" font-size="45.8" letter-spacing="-0.25" text-anchor="end">0.0</text>
<text class="ser" x="625.56" y="1262.45" font-size="45.8" text-anchor="middle">0.<tspan dx="0.5">2</tspan></text>
<text class="ser" x="171.9" y="477.31" font-size="45.8" letter-spacing="-0.25" text-anchor="end">0.2</text>
<text class="ser" x="468.32" y="1262.45" font-size="45.8" text-anchor="middle">0.<tspan dx="0.5">4</tspan></text>
<text class="ser" x="171.9" y="320.07" font-size="45.8" letter-spacing="-0.25" text-anchor="end">0.4</text>
<text class="ser" x="311.08" y="1262.45" font-size="45.8" text-anchor="middle">0.<tspan dx="0.5">6</tspan></text>
<text class="ser" x="171.9" y="162.83" font-size="45.8" letter-spacing="-0.25" text-anchor="end">0.6</text>
<text class="san" x="717.6" y="1310" font-size="38.9">Δ<tspan font-style="italic">RA</tspan><tspan dx="1">(</tspan></text>
<text class="san" transform="translate(813.17,1334.81) scale(0.403,0.772)" font-size="100" fill="#000">′</text><text class="san" transform="translate(820.94,1334.81) scale(0.403,0.772)" font-size="100" fill="#000">′</text>
<text class="san" x="831.0" y="1310" font-size="38.9">)</text>
<g transform="translate(44.0,617.5) rotate(-90)">
<text class="san" x="-78.7" y="0" font-size="38.9">Δ<tspan font-style="italic">DEC</tspan><tspan dx="1.6">(</tspan></text>
<text class="san" transform="translate(46.27,25.01) scale(0.403,0.772)" font-size="100" fill="#000">′</text><text class="san" transform="translate(54.04,25.01) scale(0.403,0.772)" font-size="100" fill="#000">′</text>
<text class="san" x="63.4" y="0" font-size="38.9">)</text>
</g>
<text class="ser" x="317" y="96.9" font-size="50" fill="#fff">SCExAO/CHARIS</text>
<text class="ser" x="317" y="152.5" font-size="50" fill="#fff">2022 December 30</text>
<rect x="203.7" y="1049.6" width="402.2" height="9.5" fill="#fff"/>
<text class="ser" x="336.2" y="1016.2" font-size="66.7" fill="#fff">0.5</text>
<text class="san" transform="translate(441.39,1062.93) scale(0.700,1.340)" font-size="100" fill="#fff">′</text><text class="san" transform="translate(454.89,1062.93) scale(0.700,1.340)" font-size="100" fill="#fff">′</text>
<text class="ser" x="276.6" y="1127" font-size="67.2" fill="#fff">41.5</text>
<text class="san" x="446" y="1127" font-size="68" fill="#fff">au</text>
<path d="M388.9 561.6H545.9V537.7L596 566.7L545.9 595.9V571.8H388.9Z" fill="#fff"/>
<path d="M1274 1116.7V1018.6H1265.6L1278 983.2L1290.4 1018.6H1282V1116.7Z" fill="#fff"/>
<path d="M1282 1108.3H1184.3V1100.1L1148.3 1112.5L1184.3 1124.9V1116.7H1282Z" fill="#fff"/>
<text class="ser" x="1277.5" y="957.6" font-size="66.7" font-weight="bold" fill="#fff" text-anchor="middle">N</text>
<text class="ser" x="1111.3" y="1130.1" font-size="66.7" font-weight="bold" fill="#fff" text-anchor="middle">E</text>
<polygon points="783.05,597.10 778.38,611.47 763.27,611.47 775.49,620.36 770.82,634.73 783.05,625.84 795.28,634.73 790.61,620.36 802.83,611.47 787.72,611.47" fill="#ffff00" stroke="#000" stroke-width="2.2" stroke-linejoin="miter" stroke-miterlimit="4"/>
</svg></body></html>
